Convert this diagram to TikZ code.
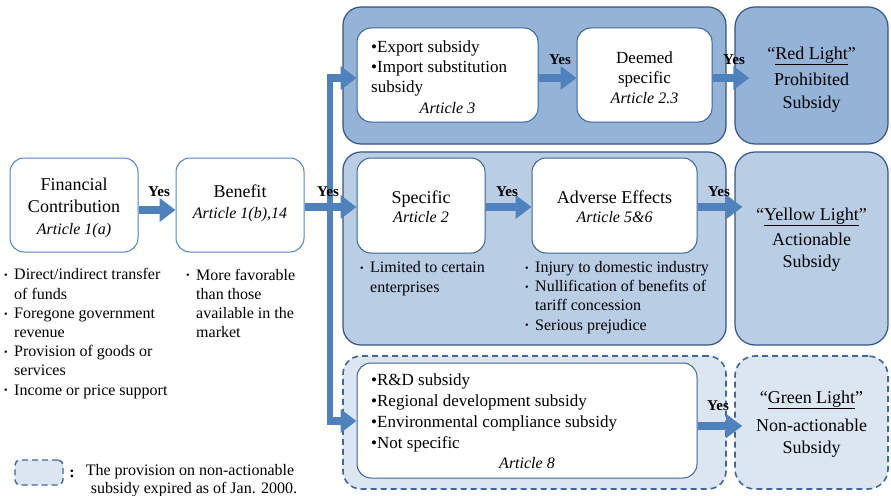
\documentclass[tikz,border=0pt]{standalone}
\usepackage{fontspec}
\setmainfont{Liberation Serif}
\usetikzlibrary{arrows.meta}
\definecolor{arrowblue}{HTML}{4F81BD}
\definecolor{outercard}{HTML}{4F81BD}
\definecolor{innercard}{HTML}{3D6393}
\definecolor{grpline}{HTML}{34557F}
\definecolor{redfill}{HTML}{95B3D7}
\definecolor{yellowfill}{HTML}{B9CDE5}
\definecolor{greenfill}{HTML}{DCE6F2}
\definecolor{dashline}{HTML}{3F679E}
\newcommand{\fs}[2]{\fontsize{#1}{#2}\selectfont}
\newcommand{\bul}{\makebox[10pt][l]{\raisebox{1.2pt}{\fs{10}{10}\textbullet}}}
\newcommand{\bulsp}{\hspace*{10pt}}
\begin{document}
\begin{tikzpicture}[x=1pt,y=-1pt,
  card/.style={draw=innercard, fill=white, line width=1pt, rounded corners=14pt, inner sep=0pt},
  ocard/.style={draw=outercard, fill=white, line width=1pt, rounded corners=14pt, inner sep=0pt},
  grp/.style={draw=grpline, line width=1.2pt, rounded corners=18pt, inner sep=0pt},
  dgrp/.style={draw=dashline, line width=1.6pt, dash pattern=on 6pt off 4pt, rounded corners=18pt, inner sep=0pt, fill=greenfill},
  arr/.style={draw=arrowblue, line width=8.5pt, -{Triangle[length=16pt,width=23pt]}},
  trunk/.style={draw=arrowblue, line width=6pt},
  yes/.style={font=\bfseries\fs{15}{15}, inner sep=0pt, anchor=base},
  ttl/.style={align=center, inner sep=0pt, anchor=base},
  blist/.style={font=\fs{16}{19.2}, align=left, inner sep=0pt, anchor=base west},
]
\useasboundingbox (0,0) rectangle (891,495);

% groups and result boxes
\node[grp, fill=redfill, minimum width=383, minimum height=137] (gtop) at (534.5,75.5) {};
\node[grp, fill=redfill, rounded corners=20pt, minimum width=153, minimum height=137] (red) at (811.5,75.5) {};
\node[grp, fill=yellowfill, minimum width=383, minimum height=193] (gmid) at (534.5,248.5) {};
\node[grp, fill=yellowfill, rounded corners=20pt, minimum width=153, minimum height=193] (yellow) at (811.5,248.5) {};
\node[dgrp, minimum width=383, minimum height=133] (gbot) at (534.5,422.5) {};
\node[dgrp, rounded corners=20pt, minimum width=153, minimum height=133] (green) at (811.5,422.5) {};

% cards
\node[ocard, minimum width=128, minimum height=94] (fc) at (74,205) {};
\node[ocard, minimum width=128, minimum height=94] (ben) at (240,205) {};
\node[card, minimum width=181, minimum height=94] (t1) at (447.5,75) {};
\node[card, minimum width=135, minimum height=94] (t2) at (644.5,75) {};
\node[card, minimum width=128, minimum height=95] (sp) at (421,205.5) {};
\node[card, minimum width=165, minimum height=95] (adv) at (614.5,205.5) {};
\node[card, minimum width=340, minimum height=115] (b1) at (527,420.5) {};

% texts in cards (anchor base = baseline of the last line)
\node[ttl, font=\fs{18}{22}] (fctx) at (74,234) {Financial\\Contribution\\{\fs{16}{22}\itshape Article 1(a)}};
\node[ttl, font=\fs{18}{21}] (bentx) at (240,218) {Benefit\\{\fs{16}{21}\itshape Article 1(b),14}};
\node[blist] (fcl) at (4,395) {\bul Direct/indirect transfer\\ \bulsp of funds\\ \bul Foregone government\\ \bulsp revenue\\ \bul Provision of goods or\\ \bulsp services\\ \bul Income or price support};
\node[blist] (benl) at (186,337.6) {\bul More favorable\\ \bulsp than those\\ \bulsp available in the\\ \bulsp market};

\node[blist, font=\fs{17}{20.3}] (t1tx) at (371,92.6) {\textbullet Export subsidy\\ \textbullet Import substitution\\ subsidy};
\node[ttl, font=\fs{16}{16}\itshape] (t1art) at (447.5,113) {Article 3};
\node[ttl, font=\fs{17}{20}] (t2tx) at (644.5,103) {Deemed\\specific\\{\fs{16}{20}\itshape Article 2.3}};

\node[ttl, font=\fs{18}{19.5}] (sptx) at (421,222.5) {Specific\\{\fs{16}{19.5}\itshape Article 2}};
\node[ttl, font=\fs{18}{19.5}] (advtx) at (614.5,222.5) {Adverse Effects\\{\fs{16}{19.5}\itshape Article 5\&6}};
\node[blist] (spl) at (360,292) {\bul Limited to certain\\ \bulsp enterprises};
\node[blist] (advl) at (525,330) {\bul Injury to domestic industry\\ \bul Nullification of benefits of\\ \bulsp tariff concession\\ \bul Serious prejudice};

\node[blist, font=\fs{17}{21}] (b1tx) at (371,448) {\textbullet R\&D subsidy\\ \textbullet Regional development subsidy\\ \textbullet Environmental compliance subsidy\\ \textbullet Not specific};
\node[ttl, font=\fs{16}{16}\itshape] (b1art) at (527,468) {Article 8};

\node[ttl, font=\fs{18}{23}] (redtx) at (811.5,108) {“\underline{Red Light}”\\[3pt]Prohibited\\Subsidy};
\node[ttl, font=\fs{18}{22}] (yeltx) at (811.5,267) {“\underline{Yellow Light}”\\[3pt]Actionable\\Subsidy};
\node[ttl, font=\fs{18}{22}] (grntx) at (811.5,453) {“\underline{Green Light}”\\[6pt]Non-actionable\\Subsidy};

% connectors
\coordinate (j1) at (330,78);
\coordinate (j2) at (330,207);
\coordinate (j3) at (330,421);
\draw[trunk] ([yshift=-2pt]j1) -- ([yshift=2pt]j3);
\draw[arr] ([xshift=-3pt]j1) -- (t1.west |- j1);
\draw[arr] ([xshift=-3pt]j3) -- (b1.west |- j3);
\draw[arr] (ben.east |- j2) -- (sp.west |- j2);
\draw[arr] (fc.east |- 0,210) -- (ben.west |- 0,210);
\draw[arr] (t1.east |- 0,78) -- (t2.west |- 0,78);
\draw[arr] (t2.east |- 0,78) -- ([xshift=15pt]red.west |- 0,78);
\draw[arr] (sp.east |- 0,207) -- (adv.west |- 0,207);
\draw[arr] (adv.east |- 0,207) -- ([xshift=8pt]yellow.west |- 0,207);
\draw[arr] (b1.east |- 0,426) -- ([xshift=8pt]green.west |- 0,426);

% yes labels
\node[yes] (y1) at (159,196) {Yes};
\node[yes] (y2) at (328,196) {Yes};
\node[yes] (y3) at (560,64) {Yes};
\node[yes] (y4) at (734,64) {Yes};
\node[yes] (y5) at (507,196) {Yes};
\node[yes] (y6) at (719,196) {Yes};
\node[yes] (y7) at (718,410) {Yes};

% legend
\node[dgrp, line width=1.4pt, rounded corners=5pt, minimum width=48, minimum height=25] (lg) at (39,472.5) {};
\node[yes, font=\bfseries\fs{16}{16}] (lgc) at (72,477) {:};
\node[ttl, font=\fs{16}{18}] (lgt) at (190,493) {The provision on non-actionable\\ \hspace*{8pt}subsidy expired as of Jan. 2000.};
\end{tikzpicture}
\end{document}
